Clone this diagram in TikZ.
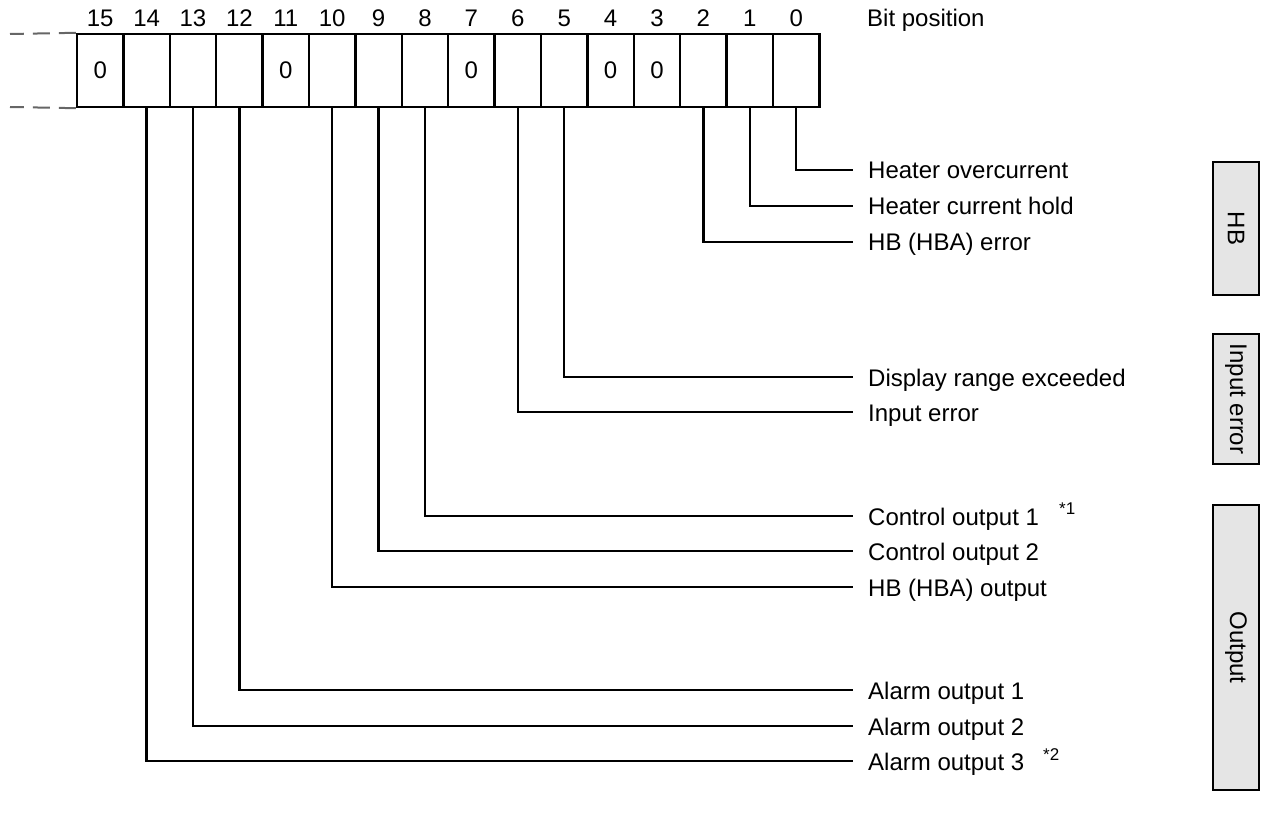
\documentclass[tikz,border=0pt]{standalone}
\usepackage{fontspec}
\setmainfont{Liberation Sans}
\usetikzlibrary{calc}
\tikzset{
	cell/.style={draw, line width=2.4pt, minimum width=46.4pt, minimum height=73pt, inner sep=0pt, text height=17pt, text depth=0pt, font=\fontsize{24}{26}\selectfont},
	bitnum/.style={inner sep=0pt, text height=17pt, text depth=0pt, font=\fontsize{24}{26}\selectfont},
	desc/.style={anchor=west, inner sep=0pt, text height=18pt, text depth=0pt, font=\fontsize{24}{28}\selectfont},
	note/.style={anchor=west, inner sep=0pt, font=\fontsize{17}{19}\selectfont},
	wire/.style={line width=2.4pt},
	dashline/.style={line width=2pt, black!60, dash pattern=on 17pt off 9pt},
	sidebox/.style={draw, line width=2.4pt, fill=gray!20, rotate=-90, minimum height=46pt, inner sep=0pt, font=\fontsize{24}{28}\selectfont}
}
\begin{document}
\begin{tikzpicture}[x=1pt,y=-1pt]
			%%%%% START %%%%%
			\useasboundingbox (0,0) rectangle (1262,813);
			
			% register cells
			\foreach \b/\v in {15/0,14/,13/,12/,11/0,10/,9/,8/,7/0,6/,5/,4/0,3/0,2/,1/,0/}
			{
				\node[cell] (b\b) at ({100.2+(15-\b)*46.4},70.5) {\v};
				\node[bitnum] (n\b) at ({100.2+(15-\b)*46.4},18) {\b};
			}
			\node[bitnum, anchor=west] (bitpos) at (867,18) {Bit position};
			
			% continuation to the left
			\coordinate (dtop) at (10,34);
			\coordinate (dbot) at (10,107);
			\draw[dashline] (b15.north west) -- (dtop);
			\draw[dashline] (b15.south west) -- (dbot);
			
			% descriptions
			\foreach \b/\y/\t in {0/170/Heater overcurrent, 1/206/Heater current hold, 2/242/HB (HBA) error,
				5/377/Display range exceeded, 6/412/Input error,
				8/516/Control output 1, 9/551/Control output 2, 10/587/HB (HBA) output,
				12/690/Alarm output 1, 13/726/Alarm output 2, 14/761/Alarm output 3}
			{
				\node[desc] (l\b) at (868,\y) {\t};
				\draw[wire] (b\b.south) |- ([xshift=-15pt]l\b.west);
			}
			\node[note] (s1) at (1059,509) {*1};
			\node[note] (s2) at (1043,755) {*2};
			
			% groups
			\node[sidebox, minimum width=133pt] (ghb) at (1236,228.5) {HB};
			\node[sidebox, minimum width=130pt] (gin) at (1236,399) {Input error};
			\node[sidebox, minimum width=285pt] (gout) at (1236,647.5) {Output};
			%%%%% END %%%%%
\end{tikzpicture}
\end{document}
